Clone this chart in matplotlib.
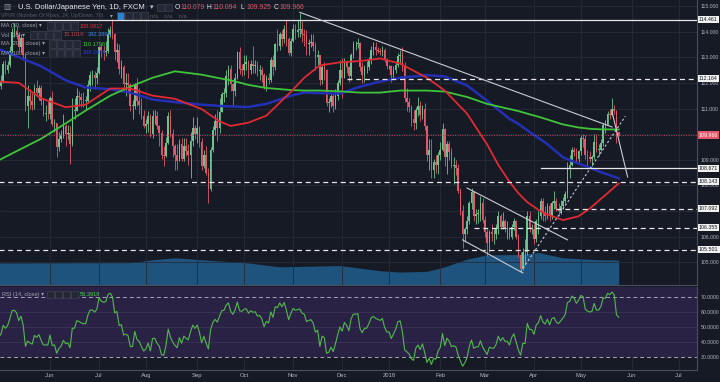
import numpy as np
import pandas as pd
import matplotlib.pyplot as plt
from matplotlib.patches import Rectangle
from matplotlib.transforms import blended_transform_factory

plt.rcParams["font.family"] = ["Liberation Sans", "DejaVu Sans"]

BG = "#161a25"
GRID = "#262b38"
EDGE = "#4a4f5e"
TXT = "#b2b5be"
UP = "#6cc38e"
DOWN = "#e2596b"

# USD/JPY daily bars, 2017-05-01 .. 2018-05-24 (one line per month)
first_open = 111.50
closes = [
    111.88, 112.05, 112.72, 112.50, 112.70, 113.25, 113.98, 114.03, 113.88, 113.38, 113.75, 113.10, 111.10, 111.50, 111.30, 111.15, 111.80, 111.60, 111.80, 111.30, 110.80, 110.80, 110.78,
    111.40, 110.40, 110.45, 109.50, 109.80, 109.95, 110.30, 110.00, 110.05, 109.60, 110.90, 110.90, 111.50, 111.45, 111.35, 111.30, 111.30, 111.90, 112.30, 112.30, 112.20, 112.40,
    113.40, 113.25, 113.20, 113.25, 113.90, 114.05, 113.90, 113.20, 113.30, 112.55, 112.60, 111.95, 112.00, 111.90, 111.10, 111.10, 111.90, 111.30, 111.15, 110.70, 110.30,
    110.40, 110.70, 110.00, 110.70, 110.70, 110.30, 110.05, 109.20, 109.15, 109.65, 110.70, 110.00, 109.55, 109.20, 108.95, 109.60, 109.05, 109.55, 109.35, 109.20, 109.75, 110.25, 110.00,
    110.25, 109.70, 108.75, 109.20, 108.50, 107.85, 109.40, 110.15, 110.50, 110.25, 110.85, 111.55, 111.60, 112.25, 112.55, 111.95, 111.70, 112.20, 113.20, 112.55, 112.50,
    112.75, 112.80, 112.50, 112.75, 112.65, 112.70, 112.45, 112.50, 112.30, 111.85, 112.20, 112.10, 112.90, 112.60, 113.50, 113.45, 113.90, 113.70, 114.10, 113.70, 113.15, 113.65,
    114.10, 114.00, 114.05, 114.10, 113.90, 113.85, 113.50, 113.55, 113.60, 113.45, 113.00, 113.10, 112.10, 112.60, 112.50, 111.20, 111.25, 111.50, 111.10, 111.50, 112.00, 112.50,
    112.20, 112.80, 112.60, 112.25, 113.10, 113.50, 113.50, 113.55, 112.60, 112.30, 112.60, 112.60, 112.90, 113.30, 113.40, 113.30, 113.25, 113.20, 113.30, 112.90, 112.65,
    112.65, 112.30, 112.50, 112.70, 113.05, 113.10, 112.60, 111.40, 111.25, 111.05, 110.60, 110.45, 110.95, 111.10, 110.75, 111.00, 110.30, 109.20, 109.40, 108.60, 108.90, 108.80, 109.20,
    109.40, 110.20, 109.10, 109.60, 109.30, 108.75, 108.80, 108.70, 107.80, 107.00, 106.10, 106.30, 106.60, 107.30, 107.75, 106.80, 106.90, 106.90, 107.30, 106.65,
    106.20, 105.75, 106.20, 106.10, 106.10, 106.30, 106.80, 106.40, 106.60, 106.30, 106.30, 106.00, 106.40, 106.60, 106.00, 105.30, 104.75, 105.40, 105.40, 106.80, 106.30, 106.30,
    105.90, 106.60, 106.80, 107.40, 106.95, 106.80, 107.20, 106.80, 107.30, 107.40, 107.10, 107.00, 107.20, 107.40, 107.65, 108.70, 108.80, 109.40, 109.30, 109.05, 109.35,
    109.85, 109.80, 109.20, 109.10, 109.05, 109.10, 109.70, 109.40, 109.40, 109.65, 110.35, 110.35, 110.80, 110.75, 111.00, 110.90, 110.079, 109.966,
]
highs = [
    112.05, 112.30, 112.85, 112.90, 112.85, 113.45, 114.15, 114.35, 114.20, 114.00, 113.90, 113.80, 113.15, 111.90, 111.75, 111.60, 111.95, 112.12, 111.90, 111.90, 111.40, 111.15, 111.35,
    111.50, 111.70, 110.60, 110.45, 110.10, 110.15, 110.80, 110.40, 110.35, 110.30, 111.40, 111.40, 111.80, 111.70, 111.60, 111.65, 111.50, 112.10, 112.45, 112.50, 112.45, 112.60,
    113.45, 113.50, 113.45, 113.65, 114.15, 114.20, 114.49, 113.95, 113.55, 113.50, 112.90, 112.70, 112.40, 112.40, 112.00, 111.35, 112.00, 112.20, 111.80, 111.40, 110.95,
    110.60, 110.90, 110.80, 110.95, 110.95, 110.90, 110.35, 110.15, 109.55, 109.90, 110.85, 110.95, 110.20, 109.60, 109.60, 109.80, 109.85, 109.85, 109.85, 109.60, 110.10, 110.65, 110.35,
    110.65, 110.30, 109.85, 109.40, 109.55, 108.70, 109.50, 110.30, 110.80, 110.95, 111.40, 111.65, 111.80, 112.50, 112.70, 112.70, 112.00, 112.40, 113.25, 113.40, 112.75,
    113.10, 113.10, 112.90, 112.90, 113.45, 112.90, 112.85, 112.70, 112.60, 112.40, 112.30, 112.40, 113.00, 113.10, 113.55, 114.10, 114.00, 114.05, 114.25, 114.45, 113.80, 113.75,
    114.30, 114.30, 114.45, 114.73, 114.40, 114.10, 114.05, 113.70, 113.90, 113.90, 113.60, 113.30, 113.10, 112.70, 112.80, 112.55, 111.40, 111.65, 111.60, 111.75, 112.10, 112.90,
    112.95, 112.95, 112.90, 112.65, 113.15, 113.65, 113.65, 113.75, 113.60, 112.80, 112.70, 112.85, 113.00, 113.45, 113.60, 113.60, 113.40, 113.35, 113.45, 113.35, 112.95,
    112.70, 112.70, 112.65, 112.85, 113.15, 113.30, 113.40, 112.80, 111.80, 111.40, 111.15, 110.95, 111.05, 111.45, 111.30, 111.15, 111.20, 110.35, 109.80, 109.80, 109.05, 109.20, 109.30,
    109.70, 110.45, 110.25, 109.75, 109.75, 109.45, 109.10, 109.00, 108.85, 107.90, 107.25, 106.40, 106.80, 107.40, 107.90, 107.75, 107.10, 107.10, 107.60, 107.50,
    106.80, 106.30, 106.25, 106.50, 106.30, 106.50, 107.00, 106.90, 106.95, 106.70, 106.60, 106.40, 106.50, 106.75, 106.65, 106.10, 105.40, 105.55, 105.90, 107.00, 107.00, 106.50,
    106.50, 106.70, 107.00, 107.50, 107.50, 107.20, 107.30, 107.30, 107.40, 107.80, 107.50, 107.30, 107.45, 107.55, 107.80, 108.90, 109.20, 109.50, 109.50, 109.45, 109.40,
    109.95, 110.00, 109.95, 109.40, 109.35, 109.20, 110.00, 110.00, 109.60, 109.80, 110.45, 110.55, 110.90, 111.00, 111.40, 111.15, 110.95, 110.094,
]
lows = [
    111.40, 111.75, 112.00, 112.35, 112.40, 112.60, 113.10, 113.80, 113.70, 113.25, 113.20, 112.90, 110.90, 110.25, 111.00, 110.95, 111.00, 111.45, 111.35, 111.15, 110.70, 110.50, 110.60,
    110.60, 110.30, 110.10, 109.10, 109.35, 109.70, 109.85, 109.55, 109.80, 108.85, 109.55, 110.60, 110.90, 111.10, 111.05, 111.05, 110.95, 111.20, 111.70, 111.90, 111.75, 111.95,
    112.35, 113.00, 112.90, 113.05, 113.15, 113.80, 113.70, 112.90, 112.80, 112.35, 112.20, 111.70, 111.50, 111.60, 110.90, 110.60, 111.00, 111.10, 110.80, 110.60, 110.25,
    110.05, 110.10, 109.90, 109.85, 110.40, 110.20, 109.55, 109.05, 108.75, 109.10, 109.60, 109.90, 109.10, 108.60, 108.60, 108.95, 108.95, 108.95, 109.15, 108.80, 108.30, 109.55, 109.80,
    109.65, 109.50, 108.60, 108.70, 108.40, 107.32, 107.80, 109.30, 109.95, 109.75, 110.05, 110.85, 111.25, 111.45, 111.90, 111.70, 111.05, 111.50, 112.15, 112.35, 112.25,
    112.30, 112.50, 112.20, 112.35, 112.40, 112.40, 112.25, 112.10, 112.05, 111.75, 111.70, 111.95, 112.05, 112.30, 112.50, 113.25, 113.30, 113.45, 113.55, 113.45, 113.10, 113.05,
    113.60, 113.70, 113.80, 113.80, 113.60, 113.45, 113.10, 113.10, 113.40, 113.25, 112.50, 112.70, 111.90, 111.95, 112.10, 111.10, 110.85, 111.05, 110.85, 111.00, 111.35, 111.90,
    111.40, 112.20, 112.40, 112.05, 112.10, 112.95, 113.30, 113.35, 112.45, 112.00, 112.05, 112.40, 112.50, 112.75, 113.10, 113.10, 113.15, 113.10, 113.05, 112.80, 112.55,
    112.55, 112.05, 112.20, 112.40, 112.60, 112.75, 112.45, 111.25, 110.90, 110.85, 110.30, 110.15, 110.20, 110.70, 110.50, 110.60, 110.15, 108.95, 108.60, 108.30, 108.30, 108.50, 108.45,
    109.00, 109.35, 108.75, 108.45, 109.00, 108.70, 108.05, 108.40, 107.70, 106.85, 105.55, 105.80, 106.10, 106.50, 107.10, 106.60, 106.50, 106.55, 106.60, 106.55,
    106.00, 105.25, 105.40, 105.85, 105.70, 105.90, 106.10, 106.30, 106.30, 106.20, 105.90, 105.90, 105.90, 106.25, 105.90, 105.20, 104.63, 104.70, 104.90, 105.30, 106.20, 106.10,
    105.70, 105.80, 106.10, 106.70, 106.60, 106.60, 106.70, 106.60, 106.70, 107.10, 107.00, 106.80, 106.90, 107.10, 107.30, 107.50, 108.30, 108.75, 109.15, 108.90, 108.90,
    109.20, 109.50, 109.05, 108.65, 108.90, 108.75, 109.05, 109.30, 109.15, 109.35, 109.55, 110.05, 110.35, 110.60, 110.70, 110.80, 109.65, 109.925,
]
# April 2017 closes, only used to warm up the RSI
warmup_closes = [111.40, 110.70, 110.70, 110.80, 111.10, 110.90, 109.60, 109.40, 109.10, 108.60,
                 108.90, 108.90, 108.90, 109.30, 109.10, 110.10, 111.10, 111.20, 111.30, 111.50]

# moving averages
ma_dates = ["2017-05-01", "2017-05-12", "2017-05-26", "2017-06-12", "2017-06-23", "2017-07-10",
            "2017-07-21", "2017-08-04", "2017-08-18", "2017-09-05", "2017-09-15", "2017-09-22",
            "2017-10-04", "2017-10-16", "2017-10-31", "2017-11-08", "2017-11-17", "2017-11-30",
            "2017-12-13", "2017-12-26", "2018-01-08", "2018-01-24", "2018-02-05", "2018-02-19",
            "2018-03-02", "2018-03-09", "2018-03-16", "2018-03-22", "2018-03-28", "2018-04-04",
            "2018-04-09", "2018-04-19", "2018-04-30", "2018-05-07", "2018-05-11", "2018-05-24"]
ma50 = [112.05, 112.00, 111.40, 111.05, 111.15, 111.78, 111.78, 111.50, 111.38, 110.98, 110.50, 110.32,
        110.45, 110.72, 111.65, 112.20, 112.68, 112.80, 112.85, 112.95, 112.75, 112.20, 111.70, 110.80,
        109.60, 108.80, 108.15, 107.70, 107.35, 107.05, 106.90, 106.65, 106.80, 107.10, 107.40, 108.08]
ma100 = [113.32, 113.00, 112.65, 112.10, 111.82, 111.75, 111.62, 111.35, 111.25, 111.15, 111.10, 111.08,
         111.06, 111.18, 111.50, 111.62, 111.60, 111.58, 111.85, 112.05, 112.20, 112.30, 112.25, 111.90,
         111.30, 110.95, 110.60, 110.40, 110.15, 109.85, 109.68, 109.10, 108.85, 108.70, 108.55, 108.28]
ma200 = [108.98, 109.38, 109.82, 110.42, 110.92, 111.50, 111.85, 112.20, 112.45, 112.32, 112.18, 112.10,
         111.92, 111.80, 111.72, 111.70, 111.70, 111.67, 111.62, 111.62, 111.70, 111.70, 111.66, 111.45,
         111.18, 111.08, 110.98, 110.90, 110.80, 110.68, 110.60, 110.38, 110.26, 110.21, 110.19, 110.18]

# volume moving average (K)
vol_dates = ["2017-05-01", "2017-07-21", "2017-08-04", "2017-08-18", "2017-09-05", "2017-10-04",
             "2017-10-24", "2017-11-30", "2017-12-26", "2018-01-08", "2018-01-24", "2018-02-05",
             "2018-02-19", "2018-03-02", "2018-03-22", "2018-04-04", "2018-04-19", "2018-05-11", "2018-05-24"]
vol_ma = [340, 345, 390, 420, 390, 340, 280, 300, 220, 200, 210, 280, 400, 465, 470, 500, 420, 390, 385]

# horizontal levels and where they start (None = whole chart)
levels = [114.461, 112.164, 108.671, 108.143, 107.092, 106.355, 105.501]
level_from = [None, "2017-12-05", "2018-04-05", None, "2018-04-16", "2018-02-22", None]
last_price = 109.966

# drawn trendlines (date, price)
trend_long = (["2017-11-06", "2018-05-21"], [114.75, 110.28])
channel_top = (["2018-02-19", "2018-04-23"], [107.90, 105.88])
channel_bot = (["2018-02-15", "2018-03-26"], [105.88, 104.59])
support = (["2018-03-23", "2018-05-29"], [104.63, 110.70])
projection = (["2018-05-21", "2018-05-30"], [110.87, 108.33])

month_labels = ["Jun", "Jul", "Aug", "Sep", "Oct", "Nov", "Dec", "2018",
                "Feb", "Mar", "Apr", "May", "Jun", "Jul"]
price_ticks = [105, 106, 107, 108, 109, 110, 111, 112, 113, 114, 115]
hidden_ticks = [107, 110]   # covered by the level labels on the chart
rsi_ticks = [30, 40, 50, 60, 70]

# ---------------------------------------------------------------------------
days = pd.bdate_range("2017-05-01", "2018-07-31")
n = len(closes)
closes = np.array(closes)
highs = np.array(highs)
lows = np.array(lows)
opens = np.r_[first_open, closes[:-1]]
idx = np.arange(n)


def at(d):
    return days.get_loc(pd.Timestamp(d))


pos = pd.Series(np.arange(len(days)), index=days)
month_pos = pos.groupby([days.year, days.month]).first().values[1:]

# RSI(14), Wilder smoothing
s = pd.Series(list(warmup_closes) + list(closes))
d = s.diff().iloc[1:]
g = d.clip(lower=0).ewm(alpha=1 / 14, adjust=False).mean()
l = (-d).clip(lower=0).ewm(alpha=1 / 14, adjust=False).mean()
rsi_vals = (100 - 100 / (1 + g / l)).values[-n:]

W, H = 720, 382
fig = plt.figure(figsize=(W / 100, H / 100), dpi=100, facecolor=BG)
ax = fig.add_axes([0, 97 / H, 697 / W, 285 / H])
rax = fig.add_axes([0, 12 / H, 697 / W, 83 / H], sharex=ax)
vax = ax.twinx()

for a in (ax, rax):
    a.set_facecolor(BG)
    for sp in a.spines.values():
        sp.set_visible(False)
    a.spines["right"].set_visible(True)
    a.spines["bottom"].set_visible(True)
    a.spines["right"].set_color(EDGE)
    a.spines["bottom"].set_color(EDGE)
    for x in month_pos:
        a.axvline(x, color=GRID, lw=0.6, zorder=0)

ax.set_zorder(2)
ax.patch.set_visible(False)
vax.set_zorder(1)
vax.axis("off")
vax.fill_between([at(v) for v in vol_dates], vol_ma, color="#1f5a88", alpha=0.9, lw=0)
vax.set_ylim(0, 4400)

ax.set_xlim(0.58, 313.1)
ax.set_ylim(104.12, 115.23)
for p in price_ticks:
    ax.axhline(p, color=GRID, lw=0.6, zorder=0)

# candles
up = closes >= opens
col = np.where(up, UP, DOWN)
ax.vlines(idx, lows, highs, colors=col, lw=0.6, zorder=2)
body = np.maximum(np.abs(closes - opens), 0.025)
ax.bar(idx, body, bottom=np.minimum(opens, closes), width=0.72, color=col, lw=0, zorder=2)

# moving averages
mx = [at(v) for v in ma_dates]
ax.plot(mx, ma100, color="#2330b5", lw=1.8, zorder=3)
ax.plot(mx, ma200, color="#3fc43a", lw=1.3, zorder=3)
ax.plot(mx, ma50, color="#df2a31", lw=1.3, zorder=3)

# levels
yb = blended_transform_factory(ax.transAxes, ax.transData)
box_x = 1 + 2 / 697
styles = ["-", (0, (4, 3)), "-", (0, (4, 3)), (0, (4, 3)), (0, (4, 3)), (0, (4, 3))]
for lv, frm, ls in zip(levels, level_from, styles):
    x0 = 0 if frm is None else at(frm)
    ax.plot([x0, 313.1], [lv, lv], color="#e6e6e6", lw=0.9, ls=ls, zorder=4)
    ax.text(box_x, lv, f"{lv:.3f}", transform=yb, fontsize=3.8, color="#131722",
            va="center", ha="left", clip_on=False, zorder=6,
            bbox=dict(boxstyle="square,pad=0.2", fc="#f0f0f0", ec="none"))
ax.axhline(last_price, color="#c0475a", lw=0.7, ls=(0, (1, 1.5)), zorder=4)
ax.text(box_x, last_price, f"{last_price:.3f}", transform=yb, fontsize=3.8, color="white",
        va="center", ha="left", clip_on=False, zorder=6,
        bbox=dict(boxstyle="square,pad=0.2", fc="#e2596b", ec="none"))

# trendlines
for (dts, prs), ls in [(trend_long, "-"), (channel_top, "-"), (channel_bot, "-"),
                       (projection, "-"), (support, (0, (2, 2)))]:
    ax.plot([at(v) for v in dts], prs, color="#c9ccd4", lw=0.8, ls=ls, zorder=4)

ax.yaxis.tick_right()
ax.set_yticks(price_ticks)
ax.set_yticklabels(["" if v in hidden_ticks else f"{v:.3f}" for v in price_ticks])
ax.tick_params(axis="y", colors=TXT, labelsize=3.7, length=0, pad=2.5)
ax.tick_params(axis="x", length=0, labelbottom=False)

# RSI pane
rax.set_ylim(21.33, 76.67)
rax.axhspan(30, 80, color="#2a2244", lw=0, zorder=0)
for v in (40, 50, 60):
    rax.axhline(v, color="#3a3357", lw=0.6, zorder=1)
for v in (70, 30):
    rax.axhline(v, color="#a7a7b8", lw=0.7, ls=(0, (4, 3)), zorder=1)
rax.plot(idx, rsi_vals, color="#52b94c", lw=0.8, zorder=3)
rax.yaxis.tick_right()
rax.set_yticks(rsi_ticks)
rax.set_yticklabels([f"{v}.0000" for v in rsi_ticks])
rax.tick_params(axis="y", colors=TXT, labelsize=3.7, length=0, pad=2.5)
rax.set_xticks(month_pos)
rax.set_xticklabels(month_labels)
rax.tick_params(axis="x", colors=TXT, labelsize=4.2, length=0, pad=2.5)


# header / legends
def ft(x, y, s, **kw):
    kw.setdefault("fontsize", 4.1)
    kw.setdefault("color", "#8a8e99")
    fig.text(x / W, 1 - y / H, s, va="center", ha="left", **kw)


def icons(x, y, k, first=None):
    for i in range(k):
        fc = first if (i == 0 and first) else "#242836"
        fig.patches.append(Rectangle(((x + 8 * i) / W, 1 - (y + 3.5) / H), 7 / W, 7 / H,
                                     transform=fig.transFigure, fc=fc, ec="#3c4150", lw=0.5))


ft(3, 7.5, "▥", fontsize=5.5, color="#8a8e99")
ft(18, 7.5, "U.S. Dollar/Japanese Yen, 1D, FXCM", fontsize=5.5, color="#e8e9ec")
ft(150, 7.5, "▾", fontsize=5, color="#c0c3cc")
icons(157, 7.5, 2)
for x, lab, val in [(175, "O", "110.079"), (207, "H", "110.094"), (241, "L", "109.925"), (274, "C", "109.966")]:
    ft(x, 7.5, lab, fontsize=4.9, color="#e8e9ec")
    ft(x + 5, 7.5, val, fontsize=4.9, color=DOWN)

ft(1, 16, "VPVR (Number Of Rows, 24, Up/Down, 70)", fontsize=3.8, color="#555a66")
ft(110, 16, "▾", color="#9a9da6")
icons(117, 16, 4, first="#2f7fd0")
ft(150, 16, "n/a    n/a    n/a", color="#555a66")

ft(1, 26, "MA (50, close) ▾", color="#a0a3ac")
icons(47, 26, 4)
ft(80, 26, "108.0817", color="#d8323a")

ft(1, 35, "Vol (20) ▾", color="#a0a3ac")
icons(30, 35, 4)
ft(64, 35, "15.101K", color="#b8424d")
ft(88, 35, "342.386K", color="#3d86d8")

ft(1, 44, "MA (200, close) ▾", color="#a0a3ac")
icons(49, 44, 4)
ft(83, 44, "110.1796", color="#43c83e")

ft(1, 53, "MA (100, close) ▾", color="#a0a3ac")
icons(49, 53, 4)
ft(83, 53, "108.2838", color="#2a3ad0")

ft(2, 294.5, "RSI (14, close) ▾", color="#a0a3ac")
icons(47, 294.5, 4)
ft(80, 294.5, "56.3918", color="#4cd44a")

fig.savefig("out.png", dpi=100, facecolor=BG)
